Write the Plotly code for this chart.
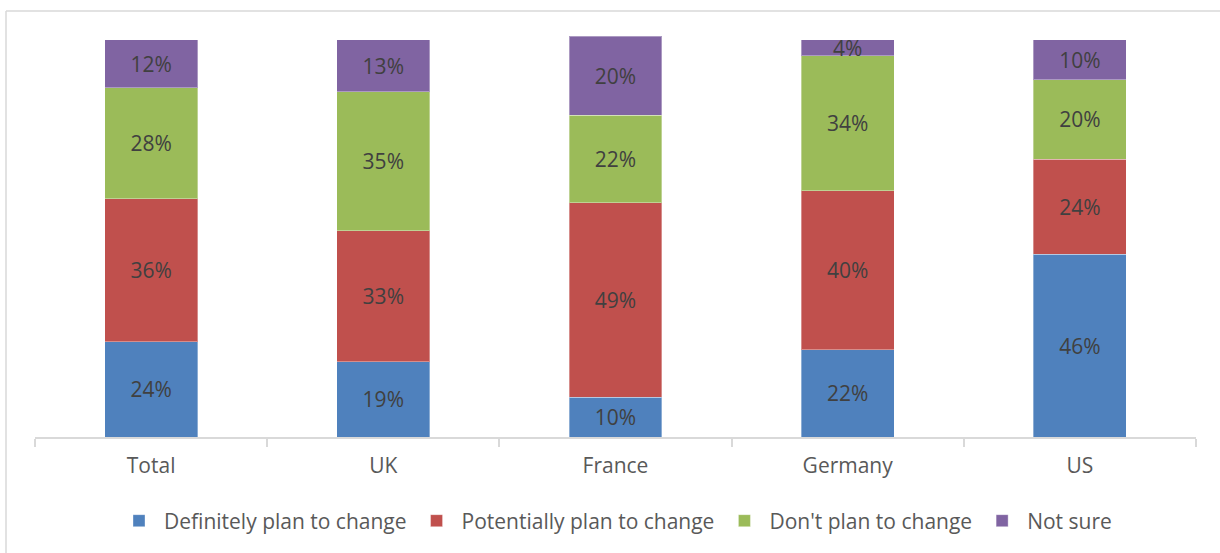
import plotly.graph_objects as go

categories = ["Total", "UK", "France", "Germany", "US"]
definitely = [24, 19, 10, 22, 46]
potentially = [36, 33, 49, 40, 24]
dont_plan = [28, 35, 22, 34, 20]
not_sure = [12, 13, 20, 4, 10]

series = [
    ("Definitely plan to change", definitely, "#4F81BD"),
    ("Potentially plan to change", potentially, "#C0504D"),
    ("Don't plan to change", dont_plan, "#9BBB59"),
    ("Not sure", not_sure, "#8064A2"),
]

FONT = "Open Sans, Liberation Sans, sans-serif"

fig = go.Figure()
for name, vals, color in series:
    fig.add_trace(go.Bar(
        x=categories, y=vals, name=name,
        marker=dict(color=color, line=dict(color="rgba(255,255,255,0.35)", width=1)),
        text=[f"{v}%" for v in vals],
        textposition="inside", insidetextanchor="middle",
        textfont=dict(family=FONT, size=21, color="#404040"),
        constraintext="none",
        cliponaxis=False,
    ))

W, H = 1220, 553
L, R, B = 35, 1196, 437
Y100 = 40
unit = (B - Y100) / 100.0
YMAX = 101
T = B - unit * YMAX
pw, ph = R - L, B - T

def px(x):
    return (x - L) / pw

def py(y):
    return (B - y) / ph

fig.update_layout(
    barmode="stack",
    bargap=0.6,
    width=W, height=H,
    margin=dict(l=L, r=W - R, t=T, b=H - B, pad=0),
    paper_bgcolor="white",
    plot_bgcolor="white",
    font=dict(family=FONT, size=21, color="#595959"),
    xaxis=dict(
        showline=True, linecolor="#D9D9D9", linewidth=1.5,
        ticks="outside", ticklen=8, tickcolor="#D9D9D9", tickwidth=1.5,
        tickson="boundaries",
        tickfont=dict(family=FONT, size=21, color="#595959"),
        ticklabelstandoff=9,
        showgrid=False,
    ),
    yaxis=dict(range=[0, YMAX], visible=False, showgrid=False),
    legend=dict(
        orientation="h", x=0.5, xanchor="center", y=py(521), yanchor="middle",
        font=dict(family=FONT, size=21, color="#595959"),
        traceorder="normal", itemwidth=40,
    ),
    shapes=[
        dict(type="line", xref="paper", yref="paper",
             x0=px(6), x1=px(1225), y0=py(11), y1=py(11),
             line=dict(color="#D9D9D9", width=1.5)),
        dict(type="line", xref="paper", yref="paper",
             x0=px(6), x1=px(6), y0=py(11), y1=py(560),
             line=dict(color="#D9D9D9", width=1.5)),
    ],
)

fig.write_html(
    "out.html",
    config={"displayModeBar": False},
    post_script="document.body.style.margin='0';document.body.style.overflow='hidden';",
)
